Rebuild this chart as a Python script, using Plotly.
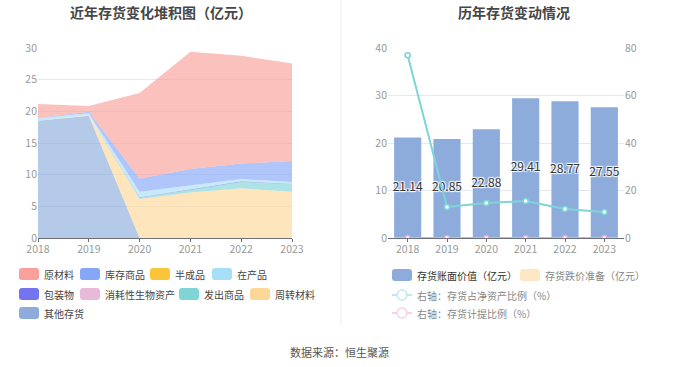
import plotly.graph_objects as go

years = ["2018", "2019", "2020", "2021", "2022", "2023"]

# stacked area series (亿元)
raw_material = [2.19, 0.90, 13.48, 18.51, 17.02, 15.40]      # 原材料
goods_stock = [0.05, 0.25, 2.10, 2.65, 2.45, 3.30]           # 库存商品
semi_finished = [0, 0, 0, 0, 0, 0]                           # 半成品
in_process = [0.40, 0.30, 0.85, 0.55, 0.35, 0.30]            # 在产品
packaging = [0, 0, 0.10, 0.10, 0.10, 0.05]                   # 包装物
bio_assets = [0, 0, 0, 0, 0, 0]                              # 消耗性生物资产
goods_shipped = [0, 0, 0.20, 0.40, 1.00, 1.20]               # 发出商品
turnover_mat = [0, 0.10, 6.15, 7.20, 7.85, 7.30]             # 周转材料
other_inv = [18.50, 19.30, 0, 0, 0, 0]                       # 其他存货

# right chart
book_value = [21.14, 20.85, 22.88, 29.41, 28.77, 27.55]      # 存货账面价值
impairment = [0, 0, 0, 0, 0, 0]                              # 存货跌价准备
ratio_net_assets = [76.9, 13.1, 14.7, 15.6, 12.2, 10.9]      # 存货占净资产比例
provision_ratio = [0, 0, 0, 0, 0, 0]                         # 存货计提比例

area_names = ["原材料", "库存商品", "半成品", "在产品", "包装物",
              "消耗性生物资产", "发出商品", "周转材料", "其他存货"]
area_values = [raw_material, goods_stock, semi_finished, in_process, packaging,
               bio_assets, goods_shipped, turnover_mat, other_inv]
area_colors = ["#f9a09a", "#86a6f8", "#fcc43a", "#a7def8", "#7574f0",
               "#e8b9d9", "#80d4d6", "#fdd797", "#8eacdb"]

W, H = 680, 367
FONT = "Noto Sans CJK SC, Noto Sans, sans-serif"


def hex_rgba(h, a):
    h = h.lstrip("#")
    return f"rgba({int(h[0:2],16)},{int(h[2:4],16)},{int(h[4:6],16)},{a})"


def px_x(x):
    return x / W


def px_y(y):
    return 1 - y / H


fig = go.Figure()

for name, vals, col in reversed(list(zip(area_names, area_values, area_colors))):
    fig.add_trace(go.Scatter(
        x=years, y=vals, name=name, mode="lines", stackgroup="inv",
        line=dict(width=0, color=col), fillcolor=hex_rgba(col, 0.65),
        xaxis="x", yaxis="y", showlegend=False, hoverinfo="skip"))

fig.add_trace(go.Bar(
    x=years, y=book_value, name="存货账面价值（亿元）", marker=dict(color="#8eacdb", line=dict(width=0)),
    xaxis="x2", yaxis="y2", showlegend=False, width=0.69))
fig.add_trace(go.Bar(
    x=years, y=impairment, name="存货跌价准备（亿元）", marker=dict(color="#fde7c4"),
    xaxis="x2", yaxis="y2", showlegend=False, width=0.69))
fig.add_trace(go.Scatter(
    x=years, y=[v / 2 for v in book_value], mode="text",
    text=[f"{v:.2f}" for v in book_value], textposition="middle center",
    textfont=dict(color="#333333", size=12, family=FONT,
                  shadow="1px 1px 1px white, -1px -1px 1px white, 1px -1px 1px white, -1px 1px 1px white"),
    xaxis="x2", yaxis="y2", showlegend=False, hoverinfo="skip"))
fig.add_trace(go.Scatter(
    x=years, y=ratio_net_assets, name="右轴：存货占净资产比例（%）", mode="lines+markers",
    line=dict(color="#7dd5d8", width=2),
    marker=dict(symbol="circle", size=5, color="white", line=dict(color="#7dd5d8", width=1.5)),
    xaxis="x2", yaxis="y3", showlegend=False))
fig.add_trace(go.Scatter(
    x=years, y=provision_ratio, name="右轴：存货计提比例（%）", mode="lines+markers",
    line=dict(color="#e9a6d4", width=2),
    marker=dict(symbol="circle", size=5, color="white", line=dict(color="#e9a6d4", width=1.5)),
    xaxis="x2", yaxis="y3", showlegend=False))

tickfont = dict(color="#999999", size=10.5, family=FONT)
grid = "#e3e8f3"

fig.update_layout(
    width=W, height=H, margin=dict(l=0, r=0, t=0, b=0, pad=0, autoexpand=False),
    paper_bgcolor="white", plot_bgcolor="white", showlegend=False,
    barmode="overlay", font=dict(family=FONT),
    xaxis=dict(domain=[px_x(38), px_x(292)], range=[0, 5], type="category",
               showgrid=False, showline=True, linecolor="#6e7079", linewidth=1,
               ticks="outside", ticklen=3, tickcolor="#6e7079", tickfont=tickfont,
               ticklabelstandoff=-2, anchor="y", automargin=False),
    yaxis=dict(domain=[px_y(238), px_y(48)], range=[0, 30], dtick=5,
               showgrid=True, gridcolor=grid, zeroline=False, showline=False,
               tickfont=tickfont, anchor="x", automargin=False),
    xaxis2=dict(domain=[px_x(388), px_x(624)], type="category", range=[-0.5, 5.5],
                showgrid=False, showline=True, linecolor="#6e7079", linewidth=1,
                ticks="outside", ticklen=3, tickcolor="#6e7079", tickfont=tickfont,
                ticklabelstandoff=-2, anchor="y2", automargin=False),
    yaxis2=dict(domain=[px_y(238), px_y(48)], range=[0, 40], dtick=10,
                showgrid=True, gridcolor=grid, zeroline=False, tickfont=tickfont, anchor="x2",
                automargin=False),
    yaxis3=dict(overlaying="y2", side="right", range=[0, 80], dtick=20,
                showgrid=False, zeroline=False, tickfont=tickfont, anchor="x2", automargin=False),
)

shapes = []
annotations = []

annotations.append(dict(text="<b>近年存货变化堆积图（亿元）</b>", x=px_x(161), y=px_y(12), xref="paper", yref="paper",
                        showarrow=False, font=dict(size=14, color="#464646", family=FONT), xanchor="center", yanchor="middle"))
annotations.append(dict(text="<b>历年存货变动情况</b>", x=px_x(514), y=px_y(12), xref="paper", yref="paper",
                        showarrow=False, font=dict(size=14, color="#464646", family=FONT), xanchor="center", yanchor="middle"))

shapes.append(dict(type="line", xref="paper", yref="paper", x0=px_x(341), x1=px_x(341), y0=px_y(0), y1=px_y(325),
                   line=dict(color="#eeeeee", width=1)))


def rounded_rect(x0, y0, w, h, r, color):
    X = lambda v: px_x(v)
    Y = lambda v: px_y(v)
    path = (f"M {X(x0+r)},{Y(y0)} L {X(x0+w-r)},{Y(y0)} Q {X(x0+w)},{Y(y0)} {X(x0+w)},{Y(y0+r)} "
            f"L {X(x0+w)},{Y(y0+h-r)} Q {X(x0+w)},{Y(y0+h)} {X(x0+w-r)},{Y(y0+h)} "
            f"L {X(x0+r)},{Y(y0+h)} Q {X(x0)},{Y(y0+h)} {X(x0)},{Y(y0+h-r)} "
            f"L {X(x0)},{Y(y0+r)} Q {X(x0)},{Y(y0)} {X(x0+r)},{Y(y0)} Z")
    return dict(type="path", path=path, xref="paper", yref="paper", fillcolor=color, line=dict(width=0))


legend_font = dict(size=10, color="#444444", family=FONT)
left_pos = [(19, 274), (80, 274), (150, 274), (212, 274),
            (19, 294), (80, 294), (179, 294), (250, 294),
            (19, 313)]
for (lx, ly), name, col in zip(left_pos, area_names, area_colors):
    shapes.append(rounded_rect(lx, ly - 6, 20, 12, 3, col))
    annotations.append(dict(text=name, x=px_x(lx + 23), y=px_y(ly), xref="paper", yref="paper", showarrow=False,
                            xanchor="left", yanchor="middle", font=legend_font))

shapes.append(rounded_rect(392, 269, 20, 12, 3, "#8eacdb"))
annotations.append(dict(text="存货账面价值（亿元）", x=px_x(415), y=px_y(275), xref="paper", yref="paper", showarrow=False,
                        xanchor="left", yanchor="middle", font=dict(size=10, color="#333333", family=FONT)))
shapes.append(rounded_rect(520, 269, 20, 12, 3, "#fde7c4"))
annotations.append(dict(text="存货跌价准备（亿元）", x=px_x(543), y=px_y(275), xref="paper", yref="paper", showarrow=False,
                        xanchor="left", yanchor="middle", font=dict(size=10, color="#888888", family=FONT)))
for ly, col, txt in [(295, "#bfeaec", "右轴：存货占净资产比例（%）"), (313, "#f5d2ea", "右轴：存货计提比例（%）")]:
    shapes.append(dict(type="line", xref="paper", yref="paper", x0=px_x(392), x1=px_x(412), y0=px_y(ly), y1=px_y(ly),
                       line=dict(color=col, width=2)))
    shapes.append(dict(type="circle", xref="paper", yref="paper", x0=px_x(397), x1=px_x(407), y0=px_y(ly + 5), y1=px_y(ly - 5),
                       line=dict(color=col, width=1.5), fillcolor="white"))
    annotations.append(dict(text=txt, x=px_x(415), y=px_y(ly), xref="paper", yref="paper", showarrow=False,
                            xanchor="left", yanchor="middle", font=dict(size=10, color="#888888", family=FONT)))

annotations.append(dict(text="数据来源：恒生聚源", x=px_x(339), y=px_y(352), xref="paper", yref="paper", showarrow=False,
                        xanchor="center", yanchor="middle", font=dict(size=11, color="#555555", family=FONT)))

fig.update_layout(shapes=shapes, annotations=annotations)
fig.write_html("out.html", config={"displayModeBar": False},
               post_script="document.body.style.margin='0px';document.body.style.overflow='hidden';")
